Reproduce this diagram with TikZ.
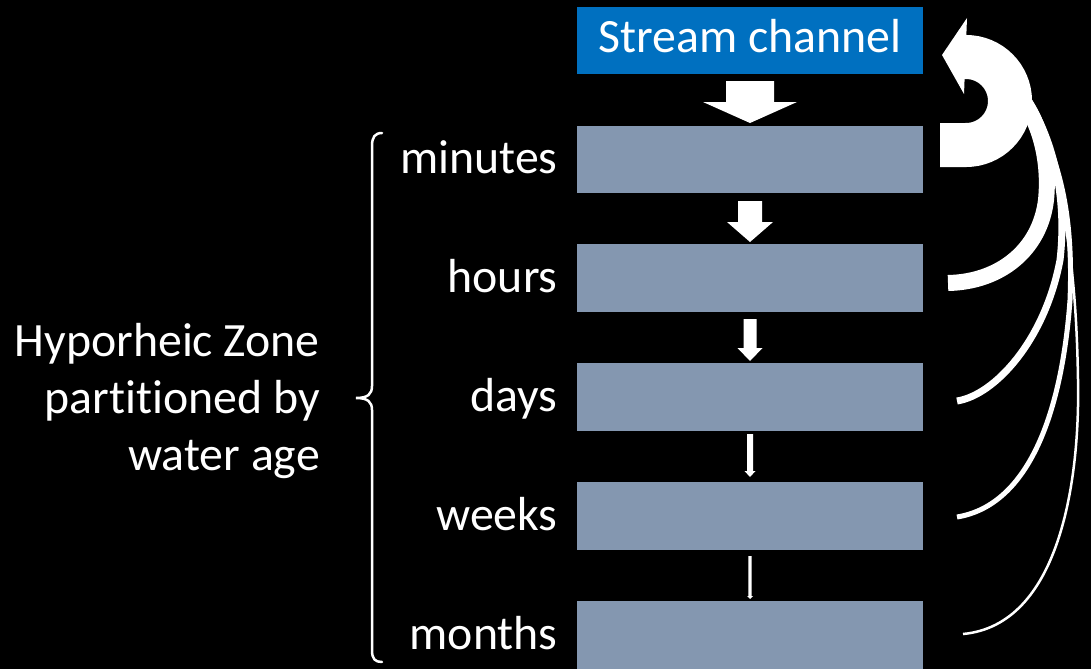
\documentclass[tikz,border=0pt]{standalone}
\usepackage{fontspec}
\setmainfont{Carlito}[Ligatures=NoCommon]
\usetikzlibrary{calc}

% block arrow pointing down, centred on x = 750
% #1 top, #2 head base, #3 tip, #4 half shaft width, #5 half head width
\newcommand\dnarrow[5]{%
  \fill[white] ({750-#4},#1) -- ({750+#4},#1) -- ({750+#4},#2) -- ({750+#5},#2)
    -- (750,#3) -- ({750-#5},#2) -- ({750-#4},#2) -- cycle;}

\begin{document}
\begin{tikzpicture}[x=1pt,y=-1pt,
  agebox/.style={draw=none,fill=ageblue,minimum width=346pt,inner sep=0pt},
  lbl/.style={text=white,font=\fontsize{47.8}{57}\selectfont,inner sep=0pt},
  flow/.style={draw=white,line cap=butt}]
\definecolor{streamblue}{RGB}{0,112,192}
\definecolor{ageblue}{RGB}{132,151,176}

\fill[black] (0,0) rectangle (1091,669);
\useasboundingbox (0,0) rectangle (1091,669);

% stream and age compartments
\node[agebox,fill=streamblue,minimum height=67pt] (stream) at (750,40.5) {};
\node[lbl,anchor=base] at ($(stream.center)+(0,12)$) {Stream channel};

\node[agebox,minimum height=67pt] (minutes) at (750,159.5) {};
\node[agebox,minimum height=68pt] (hours) at (750,278) {};
\node[agebox,minimum height=68pt] (days) at (750,397) {};
\node[agebox,minimum height=68pt] (weeks) at (750,516) {};
\node[agebox,minimum height=68pt] (months) at (750,635) {};

\foreach \n/\t in {minutes/minutes,hours/hours,days/days,weeks/weeks,months/months}
  \node[lbl,anchor=base east] (\n-lbl) at ($(\n.west)+(-19,14)$) {\t};

% downward flow between compartments
\dnarrow{81}{102}{123}{24}{47}
\dnarrow{201}{222}{242}{12}{23}
\dnarrow{319}{348}{361}{6.5}{12.5}
\dnarrow{434}{471}{477}{3}{5.5}
\dnarrow{556}{596}{599}{1.7}{3}

% return flow to the stream channel
\draw[flow,line width=2.5] (963,634) .. controls (1060,625) and (1080,480) .. (1078,380)
  .. controls (1076,250) and (1060,150) .. (1010,75);
\draw[flow,line width=5] (957,517) .. controls (1030,505) and (1062,410) .. (1070,300)
  .. controls (1074,200) and (1055,140) .. (1012,78);
\draw[flow,line width=7] (957,401) .. controls (995,395) and (1045,340) .. (1060,260)
  .. controls (1068,190) and (1050,125) .. (1015,82);
\draw[flow,line width=16] (948,283) .. controls (1000,282) and (1040,250) .. (1046,200)
  .. controls (1050,160) and (1040,115) .. (1010,85);
\draw[flow,line width=44] (940,145) -- (966,145) arc[start angle=90,end angle=-90,radius=44] -- (962,57);
\coordinate (tip) at (942,55);
\fill[white] (tip) -- (967,18) -- (964,94) -- cycle;

% brace grouping the compartments
\draw[white,line width=2.5,line cap=round]
  (382,133) .. controls (375,133) and (372,137) .. (372,146) -- (372,386)
  .. controls (372,394) and (368,398) .. (356,398)
  .. controls (368,398) and (372,402) .. (372,410) -- (372,650)
  .. controls (372,659) and (375,662) .. (382,662);

\node[lbl,anchor=base east] (hz1) at (320,356) {Hyporheic Zone};
\node[lbl,anchor=base east] (hz2) at (320,413) {partitioned by};
\node[lbl,anchor=base east] (hz3) at (320,470) {water age};
\end{tikzpicture}
\end{document}
